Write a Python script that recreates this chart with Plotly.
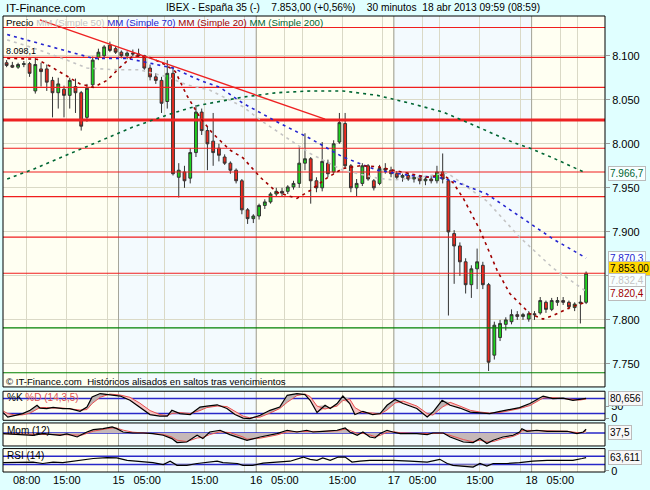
import numpy as np
import plotly.graph_objs as go

FONT = "Liberation Sans, Arial, sans-serif"

# hourly candles, x in hours from 15 abr 00:00
bar_hours = [i - 19.5 for i in range(102)]

opens = [8092, 8089, 8087, 8090, 8091, 8060, 8085, 8085, 8072, 8058,
         8062, 8055, 8065, 8058, 8030, 8067, 8098, 8100, 8112, 8108,
         8104, 8100, 8103, 8102, 8100, 8086, 8076, 8072, 8048, 8080,
         7962, 7968, 7961, 7990, 8036, 8015, 8003, 7995, 7985, 7978,
         7970, 7958, 7925, 7915, 7918, 7930, 7934, 7943, 7946, 7946,
         7951, 7955, 7978, 7983, 7958, 7950, 7978, 7968, 8002, 8023,
         7975, 7950, 7955, 7975, 7958, 7955, 7972, 7970, 7966, 7962,
         7964, 7960, 7962, 7958, 7960, 7958, 7968, 7958, 7898, 7884,
         7866, 7840, 7858, 7862, 7840, 7760, 7780, 7795, 7798, 7806,
         7804, 7801, 7807, 7808, 7820, 7812, 7820, 7822, 7820, 7814,
         7819, 7820]
highs = [8095, 8093, 8092, 8094, 8093, 8098, 8092, 8090, 8076, 8075,
         8066, 8075, 8074, 8060, 8068, 8099, 8108, 8112, 8116, 8111,
         8106, 8105, 8107, 8108, 8101, 8090, 8080, 8076, 8095, 8088,
         7978, 7975, 7995, 8044, 8040, 8020, 8035, 8000, 7988, 7980,
         7972, 7960, 7927, 7920, 7932, 7937, 7945, 7950, 7950, 7953,
         7958, 7996, 8012, 7985, 7962, 8002, 7982, 8004, 8035, 8035,
         7977, 7960, 7978, 7977, 7960, 7976, 7978, 7974, 7969, 7966,
         7967, 7965, 7964, 7963, 7964, 7975, 7989, 7960, 7902, 7888,
         7870, 7862, 7881, 7866, 7842, 7798, 7800, 7803, 7812, 7810,
         7808, 7810, 7810, 7826, 7822, 7825, 7826, 7826, 7822, 7820,
         7828, 7855]
lows = [8087, 8086, 8085, 8087, 8076, 8057, 8065, 8060, 8030, 8040,
        8030, 8040, 8035, 8015, 8025, 8064, 8095, 8098, 8104, 8102,
        8097, 8096, 8099, 8098, 8084, 8072, 8068, 8035, 8040, 7964,
        7939, 7950, 7955, 7985, 8010, 7970, 7975, 7980, 7976, 7966,
        7955, 7920, 7909, 7910, 7914, 7926, 7932, 7940, 7940, 7943,
        7948, 7950, 7970, 7932, 7945, 7946, 7962, 7966, 8000, 7972,
        7945, 7940, 7952, 7958, 7947, 7953, 7966, 7962, 7960, 7957,
        7958, 7956, 7954, 7953, 7955, 7955, 7955, 7805, 7841, 7850,
        7830, 7825, 7835, 7835, 7742, 7755, 7776, 7788, 7795, 7800,
        7800, 7798, 7800, 7806, 7808, 7810, 7816, 7817, 7812, 7810,
        7796, 7818]
closes = [8089, 8087, 8090, 8091, 8080, 8090, 8082, 8070, 8058, 8068,
          8055, 8072, 8058, 8020, 8063, 8095, 8104, 8110, 8106, 8104,
          8100, 8103, 8102, 8100, 8086, 8076, 8072, 8046, 8080, 7966,
          7970, 7958, 7990, 8036, 8015, 8000, 7990, 7987, 7978, 7970,
          7958, 7925, 7915, 7918, 7930, 7934, 7943, 7946, 7944, 7951,
          7955, 7978, 7983, 7958, 7950, 7980, 7966, 8000, 8024, 7975,
          7950, 7955, 7975, 7960, 7950, 7972, 7970, 7966, 7962, 7964,
          7960, 7962, 7958, 7960, 7958, 7968, 7960, 7900, 7884, 7866,
          7840, 7858, 7866, 7840, 7752, 7794, 7796, 7800, 7806, 7804,
          7806, 7807, 7806, 7822, 7812, 7822, 7822, 7820, 7815, 7818,
          7820, 7853]

# moving averages
ma200_hours = [-19.4, -14.9, -6.2, 2.5, 9.5, 14.2, 15.9, 21.7, 27.6, 33.4,
               39.1, 45.1, 50.8, 56.6, 63.0, 68.6, 71.7, 75.7, 81.5]
ma200 = [7960, 7971, 7995, 8019, 8035, 8044, 8046, 8053, 8058, 8060,
         8060, 8055, 8046, 8036, 8018, 8002, 7995, 7984, 7966.7]
ma70_hours = [-19.4, -14.9, -9.0, -4.4, 1.5, 5.0, 9.5, 14.2, 17.7, 21.7, 27.6,
              33.4, 36.3, 39.1, 45.1, 50.8, 55.5, 58.3, 64.2, 69.9, 75.7, 81.5]
ma70 = [8124, 8116, 8106, 8097, 8097, 8092, 8086, 8072, 8064, 8046, 8025,
        8006, 7995, 7985, 7970, 7964, 7962, 7958, 7943, 7918, 7892, 7870.3]
ma50_hours = [-19.4, -14.9, -9.0, -5.5, -0.3, 3.7, 8.5, 11.9, 15.9, 17.7, 21.7, 24.7,
              30.4, 33.4, 39.1, 45.1, 47.9, 52.6, 57.3, 64.2, 69.9, 75.7, 81.5]
ma50 = [8118, 8109, 8095, 8086, 8084, 8084, 8076, 8067, 8061, 8055, 8042, 8027,
        8002, 7989, 7970, 7961, 7959, 7962, 7967, 7935, 7894, 7859, 7832.4]
ma20_hours = [-19.4, -14.2, -11.9, -8.5, -6.7, -4.4, -2.0, 0.3, 2.5, 5.5,
              8.1, 9.9, 11.9, 14.2, 16.4, 19.4, 21.7, 24.7, 27.6, 31.1,
              33.4, 36.3, 39.1, 42.1, 45.1, 47.9, 53.8, 56.6, 58.3, 60.1,
              63.0, 66.0, 68.2, 71.7, 74.0, 75.7, 78.7, 81.5]
ma20 = [8097, 8096, 8088, 8075, 8068, 8064, 8072, 8087, 8100, 8098,
        8090, 8082, 8055, 8030, 8012, 7993, 7984, 7962, 7945, 7938,
        7947, 7961, 7972, 7975, 7974, 7970, 7962, 7965, 7956, 7938,
        7902, 7856, 7830, 7807, 7801, 7805, 7814, 7820.4]

# drawn lines
trend_hours = [-13.7, 36.0]
trend_prices = [8140.6, 8028]
red_levels = [8132, 8098.1, 8064, 7995, 7968, 7940, 7894, 7853]
thick_level = 8027
green_levels = [7791, 7740]

# stochastic %K %D (14,3,5)
stoch_hours = [-20.1, -19.3, -18.0, -16.7, -15.4, -14.2, -13.7, -12.5, -11.4, -9.7,
               -8.5, -6.7, -5.5, -4.6, -3.2, -1.5, 0.3, 2.0, 3.7, 5.5,
               7.2, 8.5, 9.3, 10.7, 12.5, 14.2, 15.4, 17.2, 18.9, 20.3,
               21.7, 22.9, 24.7, 26.4, 28.1, 29.4, 31.1, 32.5, 33.4, 34.6,
               36.0, 36.9, 38.1, 39.1, 40.3, 41.2, 42.6, 44.3, 45.6, 46.8,
               48.2, 49.6, 52.0, 53.8, 54.8, 56.4, 57.8, 59.5, 61.3, 63.0,
               64.7, 66.5, 68.2, 69.9, 71.7, 72.9, 74.0, 75.7, 77.5, 79.2,
               80.4, 81.5]
stoch_k = [24, 6, 13, 20, 33, 53, 42, 40, 45, 40,
           40, 29, 46, 86, 100, 96, 90, 73, 46, 16,
           10, 10, 33, 20, 16, 46, 50, 55, 40, 16,
           2, 0, 13, 33, 46, 93, 100, 96, 73, 24,
           53, 40, 60, 90, 60, 16, 29, 16, 20, 53,
           76, 60, 40, 6, 26, 73, 53, 42, 26, 24,
           20, 29, 37, 44, 60, 77, 90, 80, 82, 73,
           77, 80.656]
stoch_d = [30, 20, 14, 15, 22, 38, 44, 44, 42, 42,
           40, 34, 36, 60, 85, 98, 94, 85, 62, 32,
           16, 12, 20, 24, 20, 32, 44, 50, 48, 30,
           10, 3, 6, 22, 40, 65, 92, 98, 88, 50,
           38, 44, 50, 72, 78, 44, 24, 22, 18, 34,
           62, 70, 50, 20, 14, 45, 65, 50, 33, 26,
           22, 24, 32, 40, 52, 68, 82, 84, 81, 77,
           74, 78]

# momentum (12)
mom_hours = [-20.1, -17.2, -14.9, -13.2, -11.9, -10.2, -9.0, -7.2, -6.4, -5.5,
             -4.4, -2.7, -1.1, -0.3, 0.8, 2.5, 4.3, 6.0, 7.8, 9.3,
             10.2, 11.9, 13.7, 14.7, 15.9, 17.7, 19.4, 21.7, 22.4, 24.7,
             27.6, 29.4, 31.1, 32.8, 33.9, 35.6, 38.1, 39.5, 40.3, 41.6,
             42.6, 43.8, 44.7, 45.6, 46.8, 47.8, 49.1, 52.0, 53.8, 54.8,
             56.6, 57.8, 60.1, 61.8, 63.0, 64.2, 65.3, 67.0, 68.8, 69.9,
             70.3, 71.2, 72.9, 74.7, 76.4, 78.2, 79.9, 81.0, 81.5]
mom = [-6, -16, -23, -6, -16, -23, -10, -40, -16, 10,
       33, 43, 60, 43, 10, 0, 0, -6, -23, -56,
       -96, -90, -23, -56, 10, 27, -16, -63, -73, -40,
       -6, 27, 10, 27, 10, 17, 27, 50, 10, -23,
       10, -40, -50, -6, 27, 10, -6, -6, -16, 0,
       0, -40, -90, -96, -56, -106, -73, -40, -23, 10,
       43, 17, 27, 17, 17, 17, -6, 10, 37.5]
mom_signal = [-8, -12, -18, -14, -14, -18, -14, -24, -22, -4,
              18, 36, 50, 48, 28, 8, 2, -2, -14, -40,
              -72, -86, -50, -44, -16, 12, 4, -40, -62, -52,
              -20, 12, 16, 20, 16, 16, 22, 38, 26, -4,
              -4, -20, -36, -24, 8, 14, 2, -4, -10, -6,
              -2, -24, -66, -88, -72, -90, -86, -56, -34, -6,
              24, 26, 24, 20, 18, 17, 4, 4, 24]

# RSI (14)
rsi_hours = [-20.1, -17.2, -14.9, -13.2, -11.4, -9.7, -7.9, -6.2, -4.4, -2.0,
             -0.3, 1.5, 3.7, 6.0, 7.8, 9.0, 10.2, 11.9, 13.7, 15.4,
             17.2, 18.2, 20.7, 21.7, 23.4, 25.2, 27.6, 29.9, 32.2, 33.4,
             34.6, 35.6, 36.9, 38.3, 39.5, 40.7, 42.1, 43.8, 45.6, 47.8,
             50.8, 53.8, 56.0, 57.3, 58.3, 60.1, 61.8, 63.0, 64.2, 65.3,
             67.7, 69.9, 72.2, 74.7, 76.9, 79.2, 80.8, 81.5]
rsi = [39, 39, 42, 35, 42, 39, 46, 55, 59, 63,
       62, 50, 46, 39, 30, 46, 26, 26, 35, 42,
       46, 39, 35, 26, 26, 37, 42, 46, 66, 55,
       50, 62, 50, 66, 66, 42, 46, 50, 50, 50,
       46, 42, 55, 35, 26, 23, 18, 35, 23, 35,
       35, 39, 46, 50, 50, 50, 59, 63.611]

# axis labels
grid_hours = [-16, -9, -2, 0, 5, 8, 15, 22, 24, 29, 32, 39, 46, 48, 53, 56, 63, 70, 72, 77, 80]
grid_text = ["08:00", "15:00", "", "15", "05:00", "", "15:00", "", "16", "05:00", "",
             "15:00", "", "17", "05:00", "", "15:00", "", "18", "05:00", ""]
day_starts = [0, 24, 48, 72]
blue_days = [(0, 24), (48, 72)]
price_ticks = [7750, 7800, 7850, 7900, 7950, 8000, 8050, 8100]
price_text = ["7.750", "7.800", "", "7.900", "7.950", "8.000", "8.050", "8.100"]

X_RANGE = [-20.13, 84.79]
RANGES = {"y": [7723.9, 8145.1], "y2": [-6.8, 109.2], "y3": [-130, 100], "y4": [-5.8, 106.7]}


def es(v, d):
    s = f"{v:,.{d}f}"
    return s.replace(",", "#").replace(".", ",").replace("#", ".")


# pixel helpers for layout
def px(x):
    return (x - 3) / 602.0


def py(y):
    return (471.7 - y) / 455.7


def hlines(levels):
    xs, ys = [], []
    for lv in levels:
        xs += [X_RANGE[0], X_RANGE[1], None]
        ys += [lv, lv, None]
    return xs, ys


GRID = "#DAD9C6"
DAYLINE = "#A6A69A"
BLUE = "#2828C8"

fig = go.Figure()

# day separators and horizontal levels, drawn first so marks sit above them
for yr, (lo, hi) in RANGES.items():
    xs, ys = [], []
    for ds in day_starts:
        xs += [ds, ds, None]
        ys += [lo, hi, None]
    fig.add_trace(go.Scatter(x=xs, y=ys, mode="lines", line=dict(color=DAYLINE, width=1),
                             xaxis="x", yaxis=yr, hoverinfo="skip"))

for levels, col, w in [(red_levels, "#F01E1E", 1.1), ([thick_level], "#EE2222", 3),
                       (green_levels, "#008000", 1.2)]:
    xs, ys = hlines(levels)
    fig.add_trace(go.Scatter(x=xs, y=ys, mode="lines", line=dict(color=col, width=w),
                             xaxis="x", yaxis="y", hoverinfo="skip"))

for yr, levels in [("y2", [80, 20]), ("y3", [0]), ("y4", [70, 30])]:
    xs, ys = hlines(levels)
    fig.add_trace(go.Scatter(x=xs, y=ys, mode="lines", line=dict(color=BLUE, width=1.5),
                             xaxis="x", yaxis=yr, hoverinfo="skip"))

fig.add_trace(go.Candlestick(
    x=bar_hours, open=opens, high=highs, low=lows, close=closes,
    increasing=dict(line=dict(color="#333333", width=1), fillcolor="#1ED41E"),
    decreasing=dict(line=dict(color="#333333", width=1), fillcolor="#EE2A1E"),
    whiskerwidth=0, hoverinfo="skip", xaxis="x", yaxis="y"))

for hrs, vals, col in [(ma50_hours, ma50, "#C4C4C4"), (ma200_hours, ma200, "#006633"),
                       (ma70_hours, ma70, "#2424D0"), (ma20_hours, ma20, "#A00000")]:
    fig.add_trace(go.Scatter(x=hrs, y=vals, mode="lines", xaxis="x", yaxis="y",
                             line=dict(color=col, width=1.6, dash="3px,4px"), hoverinfo="skip"))

fig.add_trace(go.Scatter(x=trend_hours, y=trend_prices, mode="lines", xaxis="x", yaxis="y",
                         line=dict(color="#EE2222", width=1.4), hoverinfo="skip"))

# stochastic with fills
k = np.array(stoch_k)
d = np.array(stoch_d)
for edge, col in [(np.maximum(k, d), "#BDB4B4"), (np.minimum(k, d), "#F6C4C4")]:
    fig.add_trace(go.Scatter(x=stoch_hours, y=d, mode="lines", line=dict(width=0),
                             xaxis="x", yaxis="y2", hoverinfo="skip"))
    fig.add_trace(go.Scatter(x=stoch_hours, y=edge, mode="lines", line=dict(width=0),
                             fill="tonexty", fillcolor=col, xaxis="x", yaxis="y2", hoverinfo="skip"))
fig.add_trace(go.Scatter(x=stoch_hours, y=d, mode="lines", line=dict(color="#E85050", width=1),
                         xaxis="x", yaxis="y2", hoverinfo="skip"))
fig.add_trace(go.Scatter(x=stoch_hours, y=k, mode="lines", line=dict(color="black", width=1.2),
                         xaxis="x", yaxis="y2", hoverinfo="skip"))

# momentum
fig.add_trace(go.Scatter(x=mom_hours, y=mom, mode="lines", line=dict(width=0), fill="tozeroy",
                         fillcolor="#C6B8B8", xaxis="x", yaxis="y3", hoverinfo="skip"))
fig.add_trace(go.Scatter(x=mom_hours, y=mom_signal, mode="lines", line=dict(color="#E85050", width=1),
                         xaxis="x", yaxis="y3", hoverinfo="skip"))
fig.add_trace(go.Scatter(x=mom_hours, y=mom, mode="lines", line=dict(color="black", width=1.2),
                         xaxis="x", yaxis="y3", hoverinfo="skip"))

# rsi
r = np.array(rsi)
for lvl, edge in [(30, np.minimum(r, 30)), (70, np.maximum(r, 70))]:
    fig.add_trace(go.Scatter(x=rsi_hours, y=[lvl] * len(r), mode="lines", line=dict(width=0),
                             xaxis="x", yaxis="y4", hoverinfo="skip"))
    fig.add_trace(go.Scatter(x=rsi_hours, y=edge, mode="lines", line=dict(width=0), fill="tonexty",
                             fillcolor="#BDB4B4", xaxis="x", yaxis="y4", hoverinfo="skip"))
fig.add_trace(go.Scatter(x=rsi_hours, y=r, mode="lines", line=dict(color="black", width=1.2),
                         xaxis="x", yaxis="y4", hoverinfo="skip"))

shapes = []
for yr in ["y", "y2", "y3", "y4"]:
    for a, b in blue_days:
        shapes.append(dict(type="rect", xref="x", yref=yr + " domain", x0=a, x1=b, y0=0, y1=1,
                           fillcolor="#F3FAFE", line=dict(width=0), layer="below"))
    shapes.append(dict(type="rect", xref="paper", yref=yr + " domain", x0=0, x1=1, y0=0, y1=1,
                       line=dict(color="black", width=1), layer="above"))

annotations = []


def text(x, y, s, size=10, color="black"):
    annotations.append(dict(xref="paper", yref="paper", x=px(x), y=py(y), text=s, showarrow=False,
                            xanchor="left", yanchor="middle", font=dict(size=size, color=color, family=FONT)))


text(4, 8, "IT-Finance.com", 11.5)
text(164, 8, "IBEX - España 35 (-)&nbsp;&nbsp;&nbsp; 7.853,00 (+0,56%)&nbsp;&nbsp;&nbsp; "
             "30 minutos&nbsp; 18 abr 2013 09:59 (08:59)", 10.2)
text(4, 22, "Precio <span style='color:#C4C4C4'>MM (Simple 50)</span> "
            "<span style='color:#2424D0'>MM (Simple 70)</span> "
            "<span style='color:#A00000'>MM (Simple 20)</span> "
            "<span style='color:#006633'>MM (Simple 200)</span>", 9.7)
text(4, 51, "8.098,1", 9)
text(4, 381, "© IT-Finance.com&nbsp; Históricos alisados en saltos tras vencimientos", 9.6)
text(5, 397, "%K <span style='color:#E05050'>%D (14,3,5)</span>", 10)
text(5, 430, "Mom (12)", 10)
text(5, 455, "RSI (14)", 10)


def value_box(yref, v, s, color, bg, shift=0):
    annotations.append(dict(xref="paper", yref=yref, x=px(608), y=v, yshift=shift, text=s,
                            showarrow=False, xanchor="left", yanchor="middle",
                            font=dict(size=10, color=color, family=FONT),
                            bgcolor=bg, bordercolor="#BBBBBB", borderwidth=1, borderpad=1))


value_box("y", ma200[-1], es(ma200[-1], 1), "#006633", "#F8FFFF")
value_box("y", ma70[-1], es(ma70[-1], 1), "#2424D0", "#F8FFFF")
value_box("y", closes[-1], es(closes[-1], 2), "black", "#FFD700", 4.5)
value_box("y", ma50[-1], es(ma50[-1], 1), "#C4C4C4", "#F8FFFF", 10.5)
value_box("y", ma20[-1], es(ma20[-1], 1), "#A00000", "#F8FFFF", 8.5)
value_box("y2", stoch_k[-1], es(stoch_k[-1], 3), "black", "#F8F8F8")
value_box("y3", mom[-1], es(mom[-1], 1), "black", "#F8F8F8", -3)
value_box("y4", rsi[-1], es(rsi[-1], 3), "black", "#F8F8F8")

small_axis = dict(side="right", anchor="x", showgrid=False, zeroline=False, ticks="outside",
                  ticklen=3, tickcolor="#999999", tickfont=dict(size=11), automargin=False,
                  fixedrange=True)

fig.update_layout(
    width=650, height=490,
    margin=dict(l=3, r=45, t=16, b=18.3),
    paper_bgcolor="#E0FFFF", plot_bgcolor="#FFFFF2",
    showlegend=False,
    font=dict(family=FONT, size=11, color="black"),
    shapes=shapes, annotations=annotations,
    xaxis=dict(domain=[0, 1], anchor="y4", range=X_RANGE, tickvals=grid_hours,
               ticktext=grid_text, showgrid=True, gridcolor=GRID, ticks="", zeroline=False,
               showline=False, rangeslider=dict(visible=False), automargin=False,
               tickfont=dict(size=11), fixedrange=True),
    yaxis=dict(domain=[py(386.7), 1], side="right", anchor="x", range=RANGES["y"],
               tickvals=price_ticks, ticktext=price_text, ticks="outside", ticklen=4,
               tickcolor="#999999", showgrid=True, gridcolor=GRID, zeroline=False,
               automargin=False, fixedrange=True, tickfont=dict(size=11)),
    yaxis2=dict(small_axis, domain=[py(420), py(391)], range=RANGES["y2"],
                tickvals=[0, 50], ticktext=["0", "50"]),
    yaxis3=dict(small_axis, domain=[py(445.7), py(422.7)], range=RANGES["y3"],
                showticklabels=False, ticks=""),
    yaxis4=dict(small_axis, domain=[0, py(448.3)], range=RANGES["y4"],
                tickvals=[0], ticktext=["0"]),
)

# page margin off so the figure sits at the window corner
fig.write_html("out.html", config=dict(displayModeBar=False),
               post_script="document.body.style.margin='0';document.body.style.padding='0';")
